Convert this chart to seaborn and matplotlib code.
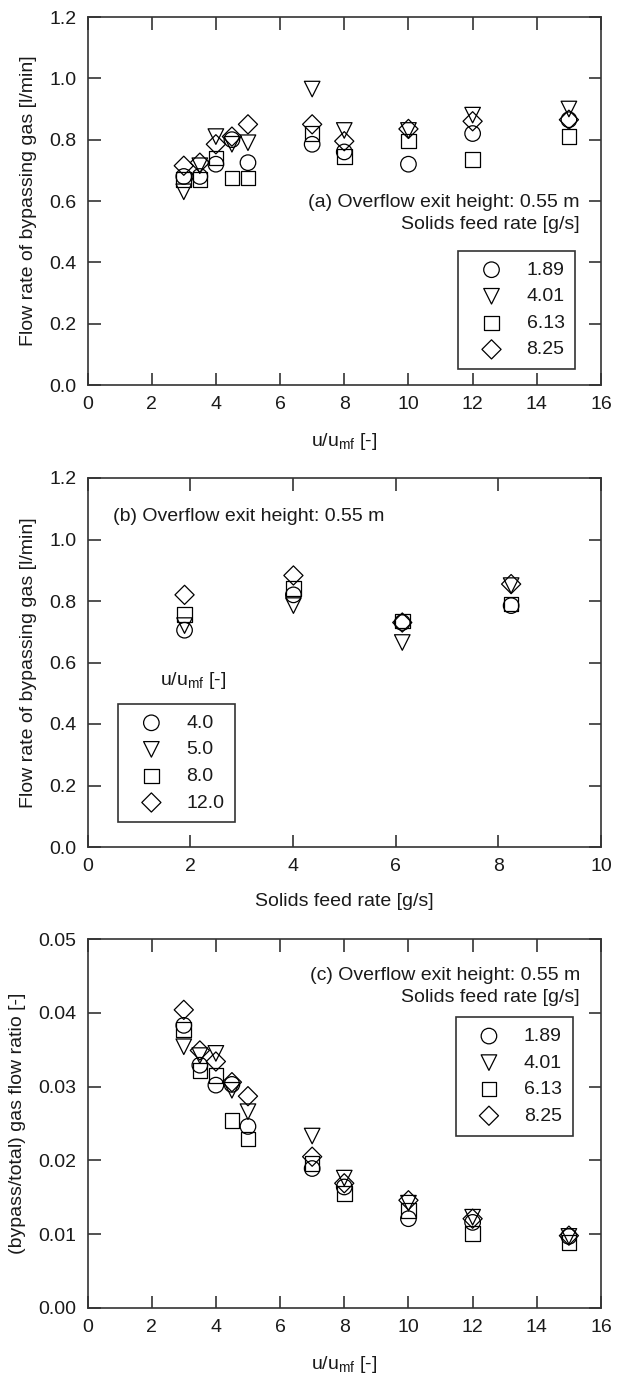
import numpy as np
import pandas as pd
import matplotlib
matplotlib.use("Agg")
import matplotlib.pyplot as plt
import seaborn as sns
from matplotlib.ticker import FormatStrFormatter, MultipleLocator

# data
u_umf = [3, 3.5, 4, 4.5, 5, 7, 8, 10, 12, 15]
feed_labels = ["1.89", "4.01", "6.13", "8.25"]

# (a) flow rate of bypassing gas [l/min] vs u/umf, one list per solids feed rate
flow_a_189 = [0.68, 0.68, 0.72, 0.80, 0.725, 0.785, 0.76, 0.72, 0.82, 0.865]
flow_a_401 = [0.63, 0.715, 0.81, 0.785, 0.79, 0.965, 0.83, 0.83, 0.88, 0.90]
flow_a_613 = [0.67, 0.67, 0.74, 0.675, 0.675, 0.82, 0.745, 0.795, 0.735, 0.81]
flow_a_825 = [0.715, 0.725, 0.785, 0.81, 0.85, 0.85, 0.795, 0.835, 0.86, 0.865]

# (b) flow rate vs solids feed rate, one list per u/umf
feed_rate = [1.89, 4.01, 6.13, 8.25]
umf_labels = ["4.0", "5.0", "8.0", "12.0"]
flow_b_4 = [0.705, 0.82, 0.73, 0.785]
flow_b_5 = [0.72, 0.785, 0.665, 0.85]
flow_b_8 = [0.757, 0.84, 0.735, 0.79]
flow_b_12 = [0.82, 0.883, 0.73, 0.855]

# (c) (bypass/total) gas flow ratio vs u/umf
ratio_c_189 = [0.0383, 0.0329, 0.0302, 0.0303, 0.0246, 0.0189, 0.0164, 0.0121, 0.0116, 0.0097]
ratio_c_401 = [0.0354, 0.0342, 0.0345, 0.0295, 0.0266, 0.0233, 0.0176, 0.0142, 0.0123, 0.0097]
ratio_c_613 = [0.0377, 0.0322, 0.0315, 0.0254, 0.0229, 0.0196, 0.0155, 0.0132, 0.0101, 0.0089]
ratio_c_825 = [0.0404, 0.0349, 0.0334, 0.0306, 0.0287, 0.0205, 0.0169, 0.0146, 0.0121, 0.0098]

markers = ["o", "v", "s", "D"]
sizes = [125, 125, 110, 95]

sns.set_theme(style="ticks")
plt.rcParams["font.family"] = ["Liberation Sans", "DejaVu Sans"]
plt.rcParams["mathtext.fontset"] = "custom"
plt.rcParams["mathtext.rm"] = "Liberation Sans"
plt.rcParams["mathtext.it"] = "Liberation Sans"
plt.rcParams["text.color"] = "#1a1a1a"
plt.rcParams["axes.labelcolor"] = "#1a1a1a"
plt.rcParams["xtick.labelcolor"] = "#1a1a1a"
plt.rcParams["ytick.labelcolor"] = "#1a1a1a"

FS = 14
SPINE = "#333333"
umf_label = r"u/u$_{\mathrm{mf}}$ [-]"

fig = plt.figure(figsize=(6.23, 13.8), dpi=100)
W, H = 623, 1380
left, width = 87.5 / W, 513.5 / W
ax_a = fig.add_axes([left, (H - 385) / H, width, 368 / H])
ax_b = fig.add_axes([left, (H - 847) / H, width, 369 / H])
ax_c = fig.add_axes([left, (H - 1308) / H, width, 369 / H])


def scatter_series(ax, x, series, labels):
    for y, lab, m, s in zip(series, labels, markers, sizes):
        df = pd.DataFrame({"x": x, "y": y})
        sns.scatterplot(data=df, x="x", y="y", marker=m, s=s, facecolor="none",
                        edgecolor="black", linewidth=0.9, ax=ax, label=lab, zorder=3)


def style_axes(ax, xmax, xstep, ymax, ystep, yfmt):
    ax.set_xlim(0, xmax)
    ax.set_ylim(0, ymax)
    ax.xaxis.set_major_locator(MultipleLocator(xstep))
    ax.yaxis.set_major_locator(MultipleLocator(ystep))
    ax.yaxis.set_major_formatter(FormatStrFormatter(yfmt))
    ax.tick_params(direction="in", length=9, width=1.2, top=True, right=True,
                   labelsize=FS, pad=8, color=SPINE)
    for sp in ax.spines.values():
        sp.set_color(SPINE)
        sp.set_linewidth(1.2)


def make_legend(ax, loc, anchor):
    leg = ax.legend(loc=loc, bbox_to_anchor=anchor, borderaxespad=0, fontsize=FS,
                    frameon=True, fancybox=False, framealpha=1, edgecolor=SPINE,
                    borderpad=0.55, handlelength=2.3, handletextpad=0.65,
                    labelspacing=0.46, scatterpoints=1)
    leg.get_frame().set_linewidth(1.2)
    return leg


# (a)
scatter_series(ax_a, u_umf, [flow_a_189, flow_a_401, flow_a_613, flow_a_825], feed_labels)
style_axes(ax_a, 16, 2, 1.2, 0.2, "%.1f")
ax_a.set_xlabel(umf_label, fontsize=FS)
ax_a.set_ylabel("Flow rate of bypassing gas [l/min]", fontsize=FS, labelpad=9)
ax_a.xaxis.set_label_coords(0.5, -0.125)
ax_a.text(0.959, 0.495, "(a) Overflow exit height: 0.55 m", transform=ax_a.transAxes,
          ha="right", va="center", fontsize=FS)
ax_a.text(0.959, 0.435, "Solids feed rate [g/s]", transform=ax_a.transAxes,
          ha="right", va="center", fontsize=FS)
make_legend(ax_a, "lower right", (0.950, 0.043))

# (b)
scatter_series(ax_b, feed_rate, [flow_b_4, flow_b_5, flow_b_8, flow_b_12], umf_labels)
style_axes(ax_b, 10, 2, 1.2, 0.2, "%.1f")
ax_b.set_xlabel("Solids feed rate [g/s]", fontsize=FS)
ax_b.set_ylabel("Flow rate of bypassing gas [l/min]", fontsize=FS, labelpad=9)
ax_b.xaxis.set_label_coords(0.5, -0.125)
ax_b.text(0.05, 0.895, "(b) Overflow exit height: 0.55 m", transform=ax_b.transAxes,
          ha="left", va="center", fontsize=FS)
ax_b.text(0.141, 0.45, umf_label, transform=ax_b.transAxes,
          ha="left", va="center", fontsize=FS)
make_legend(ax_b, "lower left", (0.06, 0.067))

# (c)
scatter_series(ax_c, u_umf, [ratio_c_189, ratio_c_401, ratio_c_613, ratio_c_825], feed_labels)
style_axes(ax_c, 16, 2, 0.05, 0.01, "%.2f")
ax_c.set_xlabel(umf_label, fontsize=FS)
ax_c.set_ylabel("(bypass/total) gas flow ratio [-]", fontsize=FS, labelpad=9)
ax_c.xaxis.set_label_coords(0.5, -0.125)
ax_c.text(0.959, 0.902, "(c) Overflow exit height: 0.55 m", transform=ax_c.transAxes,
          ha="right", va="center", fontsize=FS)
ax_c.text(0.959, 0.841, "Solids feed rate [g/s]", transform=ax_c.transAxes,
          ha="right", va="center", fontsize=FS)
make_legend(ax_c, "upper right", (0.945, 0.789))

fig.savefig("out.png", dpi=100)
